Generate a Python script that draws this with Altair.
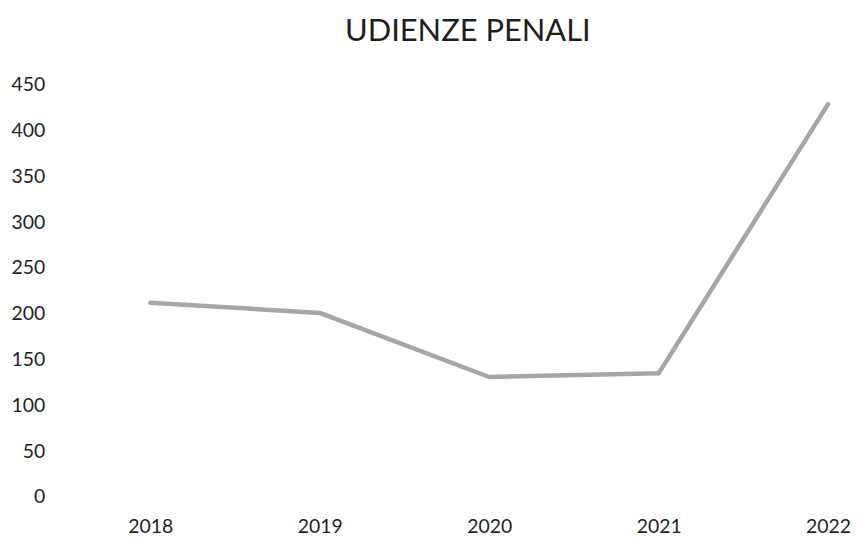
import altair as alt
import pandas as pd

title_text = "UDIENZE PENALI"
years = [2018, 2019, 2020, 2021, 2022]
udienze = [212, 201, 131, 135, 429]
y_ticks = [0, 50, 100, 150, 200, 250, 300, 350, 400, 450]

df = pd.DataFrame({"anno": years, "udienze": udienze})

FONT = "Lato"
TEXT_COLOR = "#1e1e1e"

line = alt.Chart(df).mark_line(
    color="#a6a6a6", strokeWidth=4.5, strokeCap="round", strokeJoin="round"
).encode(
    x=alt.X(
        "anno:Q",
        scale=alt.Scale(domain=[2017.4655, 2022.1175], nice=False, zero=False),
        axis=alt.Axis(
            values=years, format="d", title=None, grid=False, domain=False,
            ticks=False, tickSize=0, labelPadding=21, labelFlush=False,
            labelFontSize=19.5, labelFont=FONT, labelColor=TEXT_COLOR,
        ),
    ),
    y=alt.Y(
        "udienze:Q",
        scale=alt.Scale(domain=[0, 450], nice=False),
        axis=alt.Axis(
            values=y_ticks, title=None, grid=False, domain=False, ticks=False,
            tickSize=0, labelPadding=15, labelFontSize=19.5, labelFont=FONT,
            labelColor=TEXT_COLOR,
        ),
    ),
)

title = alt.Chart(pd.DataFrame({"t": [title_text]})).mark_text(
    font=FONT, fontSize=31, color=TEXT_COLOR, align="center", baseline="alphabetic"
).encode(text="t:N", x=alt.value(410), y=alt.value(-44))

chart = alt.layer(line, title).properties(
    width=792,
    height=414,
    padding={"left": 52, "top": 76, "right": 4, "bottom": 42},
    autosize=alt.AutoSizeParams(type="none"),
    background="white",
).configure_view(stroke=None)

chart.save("out.html", embed_options={"renderer": "svg", "actions": False})
